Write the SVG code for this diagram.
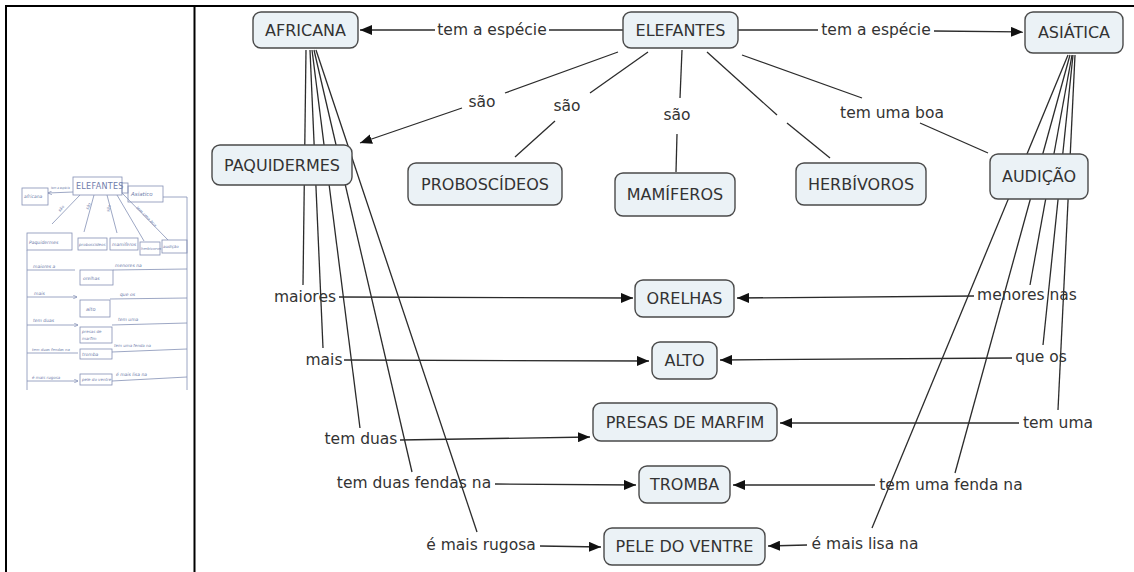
<svg xmlns="http://www.w3.org/2000/svg" width="1134" height="572" viewBox="0 0 1134 572">
  <defs>
    <marker id="arrow" viewBox="0 0 12 10" markerUnits="userSpaceOnUse" markerWidth="12" markerHeight="10" refX="12" refY="5" orient="auto">
      <path d="M0,0 L12,5 L0,10 z" fill="#111"/>
    </marker>
    <marker id="sketch-arrow" viewBox="0 0 6 6" markerUnits="userSpaceOnUse" markerWidth="4" markerHeight="4" refX="6" refY="3" orient="auto">
      <path d="M0,0 L6,3 L0,6" fill="none" stroke="#7f8cb3" stroke-width="1"/>
    </marker>
    <style>
      .frame { stroke: #000; stroke-width: 2; fill: none; }
      .node rect { fill: #ebf2f6; stroke: #4a4a4a; stroke-width: 1.4; }
      .node text { font-family: "DejaVu Sans", Verdana, sans-serif; font-size: 16px; fill: #333; text-anchor: middle; dominant-baseline: central; }
      .links line { stroke: #2b2b2b; stroke-width: 1.3; fill: none; }
      .links line.arr { marker-end: url(#arrow); }
      .label { font-family: "DejaVu Sans", Verdana, sans-serif; font-size: 15.5px; fill: #333; text-anchor: middle; dominant-baseline: central; }
      .sk line, .sk rect, .sk polyline { stroke: #8490b5; stroke-width: 0.8; fill: none; }
      .sk text { font-family: "DejaVu Sans", sans-serif; font-style: italic; fill: #6f7dab; font-size: 4.5px; }
    </style>
  </defs>

  <rect width="1134" height="572" fill="#fff"/>

  <!-- panel frame -->
  <line class="frame" x1="5" y1="6" x2="1134" y2="6"/>
  <line class="frame" x1="6" y1="5" x2="6" y2="572"/>
  <line class="frame" x1="194.5" y1="5" x2="194.5" y2="572"/>

  <!-- hand-drawn draft of the map -->
  <g id="sketch" class="sk">
    <rect x="73" y="177" width="49" height="18"/>
    <text x="76" y="189" style="font-size:8px;font-style:normal;letter-spacing:0.3px">ELEFANTES</text>
    <rect x="22" y="188" width="26" height="17"/>
    <text x="24" y="198">africana</text>
    <line x1="73" y1="192" x2="48" y2="193" marker-end="url(#sketch-arrow)"/>
    <text x="51" y="189" style="font-size:3.5px" textLength="19" lengthAdjust="spacingAndGlyphs">tem a espécie</text>
    <rect x="122" y="183" width="6" height="10"/>
    <rect x="128" y="186" width="35" height="16"/>
    <text x="131" y="196" style="font-size:5.5px">Asiatico</text>
    <polyline points="163,197 187,197 187,390"/>

    <line x1="80" y1="195" x2="52" y2="224"/>
    <text x="60" y="212" style="font-size:4px" transform="rotate(-50 60 212)">são</text>
    <line x1="94" y1="195" x2="84" y2="232"/>
    <text x="88" y="210" style="font-size:4px" transform="rotate(-65 88 210)">são</text>
    <line x1="107" y1="195" x2="117" y2="233"/>
    <text x="109" y="212" style="font-size:4px" transform="rotate(-75 109 212)">são</text>
    <line x1="117" y1="195" x2="144" y2="241"/>
    <line x1="122" y1="193" x2="168" y2="240"/>
    <text x="136" y="208" style="font-size:4px" transform="rotate(45 136 208)">tem uma boa</text>

    <rect x="27" y="233" width="45" height="17"/>
    <text x="29" y="244">Paquidermes</text>
    <rect x="78" y="238" width="29" height="12"/>
    <text x="79" y="246" style="font-size:4px">proboscideos</text>
    <rect x="110" y="238" width="28" height="12"/>
    <text x="112" y="246">mamiferos</text>
    <rect x="140" y="242" width="20" height="13"/>
    <text x="141" y="250" style="font-size:3.8px">herbivoros</text>
    <rect x="162" y="240" width="25" height="13"/>
    <text x="163" y="248" style="font-size:4px">audição</text>

    <line x1="27" y1="250" x2="27" y2="390"/>

    <line x1="27" y1="270" x2="75" y2="270"/>
    <text x="33" y="268">maiores a</text>
    <rect x="80" y="270" width="33" height="15"/>
    <text x="83" y="280">orelhas</text>
    <line x1="113" y1="270" x2="187" y2="269"/>
    <text x="115" y="267">menores na</text>

    <line x1="27" y1="297" x2="77" y2="297" marker-end="url(#sketch-arrow)"/>
    <text x="34" y="295">mais</text>
    <rect x="80" y="300" width="30" height="17"/>
    <text x="86" y="311" style="font-size:5px">alto</text>
    <line x1="110" y1="299" x2="187" y2="298"/>
    <text x="120" y="296">que os</text>

    <line x1="27" y1="325" x2="78" y2="325" marker-end="url(#sketch-arrow)"/>
    <text x="33" y="322">tem duas</text>
    <rect x="80" y="327" width="32" height="16"/>
    <text x="82" y="333" style="font-size:4px">presas de</text>
    <text x="82" y="340" style="font-size:4px">marfim</text>
    <line x1="112" y1="325" x2="187" y2="323"/>
    <text x="118" y="321">tem uma</text>

    <line x1="27" y1="353" x2="78" y2="353"/>
    <text x="32" y="351" style="font-size:3.8px">tem duas fendas na</text>
    <rect x="80" y="349" width="32" height="10"/>
    <text x="82" y="356">tromba</text>
    <line x1="112" y1="352" x2="187" y2="349"/>
    <text x="114" y="347" style="font-size:4px">tem uma fenda na</text>

    <line x1="27" y1="381" x2="78" y2="381" marker-end="url(#sketch-arrow)"/>
    <text x="32" y="379" style="font-size:4px">é mais rugosa</text>
    <rect x="80" y="374" width="32" height="11"/>
    <text x="82" y="381" style="font-size:4px">pele do ventre</text>
    <line x1="112" y1="381" x2="187" y2="377"/>
    <text x="116" y="376">é mais lisa na</text>
  </g>

  <!-- connectors and linking phrases -->
  <g id="connectors" class="links">
    <line x1="623" y1="30" x2="549" y2="30"/>
    <line class="arr" x1="435" y1="30" x2="360" y2="30"/>
    <text class="label" x="492" y="30">tem a espécie</text>

    <line x1="738" y1="30" x2="818" y2="30"/>
    <line class="arr" x1="934" y1="31" x2="1023" y2="32"/>
    <text class="label" x="876" y="30">tem a espécie</text>

    <line x1="618" y1="52" x2="505" y2="93"/>
    <line class="arr" x1="462" y1="108" x2="360" y2="143"/>
    <text class="label" x="482" y="102">são</text>

    <line x1="648" y1="52" x2="590" y2="93"/>
    <line x1="555" y1="121" x2="515" y2="157"/>
    <text class="label" x="567" y="106">são</text>

    <line x1="682" y1="50" x2="680" y2="98"/>
    <line x1="677" y1="134" x2="676" y2="172"/>
    <text class="label" x="677" y="115">são</text>

    <line x1="707" y1="52" x2="777" y2="115"/>
    <line x1="787" y1="123" x2="830" y2="158"/>

    <line x1="742" y1="55" x2="862" y2="98"/>
    <line x1="920" y1="123" x2="988" y2="153"/>
    <text class="label" x="892" y="113">tem uma boa</text>

    <!-- AFRICANA branches -->
    <line x1="306" y1="50" x2="303" y2="285"/>
    <line x1="310" y1="50" x2="323" y2="348"/>
    <line x1="312" y1="50" x2="360" y2="428"/>
    <line x1="314" y1="50" x2="412" y2="472"/>
    <line x1="316" y1="50" x2="477" y2="532"/>

    <line class="arr" x1="339" y1="297" x2="633" y2="298"/>
    <line class="arr" x1="344" y1="360" x2="649" y2="361"/>
    <line class="arr" x1="400" y1="440" x2="590" y2="437"/>
    <line class="arr" x1="495" y1="484" x2="636" y2="485"/>
    <line class="arr" x1="540" y1="546" x2="601" y2="547"/>

    <text class="label" x="305" y="297">maiores</text>
    <text class="label" x="324" y="360">mais</text>
    <text class="label" x="361" y="439">tem duas</text>
    <text class="label" x="414" y="483">tem duas fendas na</text>
    <text class="label" x="481" y="545">é mais rugosa</text>

    <!-- ASIÁTICA branches -->
    <line x1="1072" y1="55" x2="1030" y2="285"/>
    <line x1="1073" y1="55" x2="1043" y2="345"/>
    <line x1="1075" y1="55" x2="1058" y2="410"/>
    <line x1="1070" y1="55" x2="955" y2="473"/>
    <line x1="1068" y1="55" x2="872" y2="528"/>

    <line class="arr" x1="974" y1="296" x2="737" y2="298"/>
    <line class="arr" x1="1012" y1="358" x2="720" y2="360"/>
    <line class="arr" x1="1019" y1="423" x2="780" y2="423"/>
    <line class="arr" x1="875" y1="485" x2="733" y2="485"/>
    <line class="arr" x1="807" y1="545" x2="768" y2="546"/>

    <text class="label" x="1027" y="295">menores nas</text>
    <text class="label" x="1041" y="357">que os</text>
    <text class="label" x="1058" y="423">tem uma</text>
    <text class="label" x="951" y="485">tem uma fenda na</text>
    <text class="label" x="865" y="544">é mais lisa na</text>
  </g>

  <!-- concepts -->
  <g id="elefantes" class="node"><rect x="623" y="12" width="115" height="36" rx="8"/><text x="680.5" y="30">ELEFANTES</text></g>
  <g id="africana" class="node"><rect x="253" y="12" width="105" height="36" rx="8"/><text x="305.5" y="30">AFRICANA</text></g>
  <g id="asiatica" class="node"><rect x="1025" y="12" width="98" height="41" rx="8"/><text x="1074" y="32.5">ASIÁTICA</text></g>
  <g id="paquidermes" class="node"><rect x="212" y="145" width="140" height="40" rx="8"/><text x="282" y="165">PAQUIDERMES</text></g>
  <g id="proboscideos" class="node"><rect x="408" y="163" width="154" height="42" rx="8"/><text x="485" y="184">PROBOSCÍDEOS</text></g>
  <g id="mamiferos" class="node"><rect x="615" y="173" width="120" height="43" rx="8"/><text x="675" y="194.5">MAMÍFEROS</text></g>
  <g id="herbivoros" class="node"><rect x="796" y="163" width="130" height="42" rx="8"/><text x="861" y="184">HERBÍVOROS</text></g>
  <g id="audicao" class="node"><rect x="990" y="154" width="98" height="45" rx="8"/><text x="1039" y="176.5">AUDIÇÃO</text></g>
  <g id="orelhas" class="node"><rect x="635" y="280" width="99" height="37" rx="8"/><text x="684.5" y="298.5">ORELHAS</text></g>
  <g id="alto" class="node"><rect x="652" y="342" width="65" height="37" rx="8"/><text x="684.5" y="360.5">ALTO</text></g>
  <g id="presas" class="node"><rect x="593" y="403" width="184" height="38" rx="8"/><text x="685" y="422">PRESAS DE MARFIM</text></g>
  <g id="tromba" class="node"><rect x="639" y="466" width="91" height="37" rx="8"/><text x="684.5" y="484.5">TROMBA</text></g>
  <g id="pele" class="node"><rect x="604" y="528" width="161" height="37" rx="8"/><text x="684.5" y="546.5">PELE DO VENTRE</text></g>
</svg>
